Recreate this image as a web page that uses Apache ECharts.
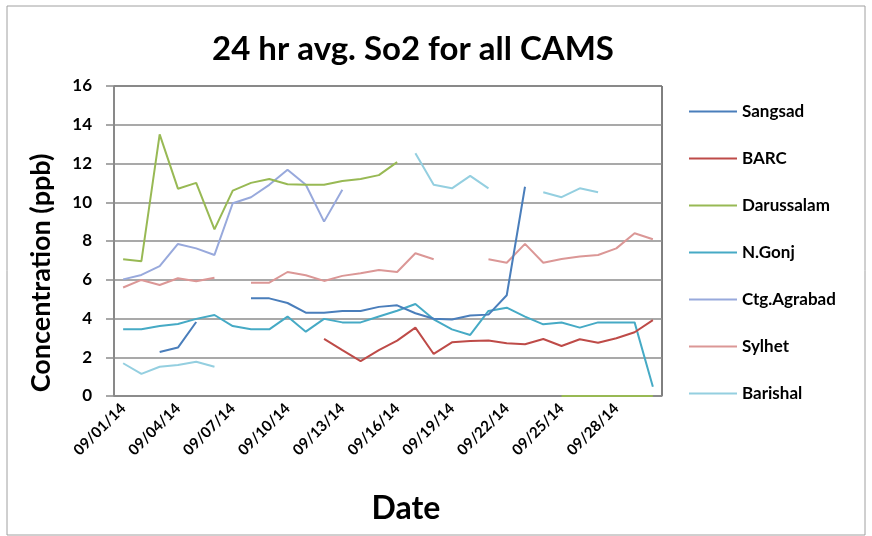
<!DOCTYPE html>
<html>
<head>
<meta charset="utf-8">
<script src="https://cdn.jsdelivr.net/npm/echarts@6/dist/echarts.min.js"></script>
<style>
  html, body { margin: 0; padding: 0; background: #fff; }
  #container { width: 872px; height: 536px; }
</style>
</head>
<body>
<div id="container"></div>
<script>
var dom = document.getElementById('container');
var myChart = echarts.init(dom, null, { renderer: 'canvas' });

// 09/01/14 .. 09/30/14
var dates = [];
for (var d = 1; d <= 30; d++) {
  dates.push('09/' + (d < 10 ? '0' + d : d) + '/14');
}

var sangsad = [null, null, 2.27, 2.5, 3.82, null, null, 5.04, 5.04, 4.8,
  4.3, 4.3, 4.39, 4.39, 4.6, 4.68, 4.27, 3.99, 3.95, 4.15,
  4.2, 5.2, 10.8, null, null, null, null, null, null, null];
var barc = [null, null, null, null, null, null, null, null, null, null,
  null, 2.95, 2.37, 1.8, 2.37, 2.86, 3.53, 2.17, 2.77, 2.84,
  2.86, 2.72, 2.67, 2.94, 2.58, 2.93, 2.75, 2.98, 3.29, 3.92];
var darussalam = [7.06, 6.96, 13.5, 10.7, 11.0, 8.6, 10.6, 11.0, 11.2, 10.93,
  10.9, 10.9, 11.1, 11.2, 11.4, 12.07, null, null, null, null,
  null, null, null, null, 0, 0, 0, 0, 0, 0];
var ngonj = [3.44, 3.44, 3.61, 3.72, 3.98, 4.18, 3.61, 3.44, 3.44, 4.1,
  3.32, 3.98, 3.8, 3.8, 4.1, 4.4, 4.75, 3.96, 3.44, 3.15,
  4.39, 4.56, 4.1, 3.7, 3.79, 3.53, 3.8, 3.8, 3.8, 0.48];
var agrabad = [6.02, 6.25, 6.7, 7.85, 7.62, 7.28, 9.95, 10.26, 10.9, 11.68,
  10.9, 9.0, 10.64, null, null, null, null, null, null, null,
  null, null, null, null, null, null, null, null, null, null];
var sylhet = [5.6, 5.99, 5.73, 6.08, 5.92, 6.1, null, 5.85, 5.85, 6.4,
  6.23, 5.94, 6.2, 6.33, 6.5, 6.4, 7.37, 7.06, null, null,
  7.06, 6.88, 7.85, 6.88, 7.07, 7.2, 7.28, 7.62, 8.4, 8.09];
var barishal = [1.69, 1.14, 1.51, 1.6, 1.77, 1.51, null, null, null, null,
  null, null, null, null, null, null, 12.53, 10.9, 10.72, 11.36,
  10.72, null, null, 10.52, 10.26, 10.72, 10.52, null, null, null];

var seriesNames = ['Sangsad', 'BARC', 'Darussalam', 'N.Gonj', 'Ctg.Agrabad', 'Sylhet', 'Barishal'];
var seriesData = [sangsad, barc, darussalam, ngonj, agrabad, sylhet, barishal];
var seriesColors = ['#4a7ebb', '#be4b48', '#98b954', '#46aac5', '#98a9dc', '#db9796', '#94cfe0'];

var fontFamily = 'Lato, "Open Sans", sans-serif';

var option = {
  backgroundColor: '#fff',
  animation: false,
  graphic: [{
    type: 'rect',
    shape: { x: 7, y: 6, width: 858, height: 529 },
    style: { fill: 'none', stroke: '#a0a0a0', lineWidth: 1 },
    silent: true
  }],
  title: {
    text: '24 hr avg. So2 for all CAMS',
    left: 408,
    textAlign: 'center',
    top: 28,
    textStyle: { fontFamily: fontFamily, fontSize: 33, fontWeight: 'bold', color: '#000' }
  },
  legend: {
    orient: 'vertical',
    left: 684,
    top: 98,
    icon: 'rect',
    itemWidth: 48,
    itemHeight: 2,
    itemGap: 30,
    data: seriesNames,
    textStyle: { fontFamily: fontFamily, fontSize: 17, fontWeight: 'bold', color: '#000' }
  },
  grid: {
    left: 114,
    top: 86,
    right: 210,
    bottom: 140,
    show: true,
    borderColor: '#000',
    borderWidth: 1,
    containLabel: false
  },
  xAxis: {
    type: 'category',
    data: dates,
    boundaryGap: true,
    name: 'Date',
    nameLocation: 'middle',
    nameGap: 97,
    nameTextStyle: { fontFamily: fontFamily, fontSize: 32, fontWeight: 'bold', color: '#000', padding: [0, 0, 0, 36] },
    axisLine: { lineStyle: { color: '#8c8c8c', width: 1.5 } },
    axisTick: { interval: 2, length: 6, lineStyle: { color: '#8c8c8c', width: 1.5 } },
    axisLabel: {
      interval: 2,
      rotate: 45,
      margin: 10,
      fontFamily: fontFamily,
      fontSize: 15,
      fontWeight: 'bold',
      color: '#000'
    },
    splitLine: { show: false }
  },
  yAxis: {
    type: 'value',
    min: 0,
    max: 16,
    interval: 2,
    name: 'Concentration (ppb)',
    nameLocation: 'middle',
    nameGap: 59,
    nameTextStyle: { fontFamily: fontFamily, fontSize: 27, fontWeight: 'bold', color: '#000', padding: [0, 64, 0, 0] },
    axisLine: { show: true, lineStyle: { color: '#8c8c8c', width: 1.5 } },
    axisTick: { show: true, length: 8, lineStyle: { color: '#8c8c8c', width: 1.5 } },
    axisLabel: {
      margin: 22,
      fontFamily: fontFamily,
      fontSize: 17,
      fontWeight: 'bold',
      color: '#000'
    },
    splitLine: { lineStyle: { color: '#8c8c8c', width: 1.5 } }
  },
  series: seriesNames.map(function (name, i) {
    return {
      name: name,
      type: 'line',
      data: seriesData[i],
      symbol: 'none',
      connectNulls: false,
      color: seriesColors[i],
      lineStyle: { width: 2, color: seriesColors[i] },
      z: 3 + (seriesNames.length - i)
    };
  })
};

myChart.setOption(option);
window.addEventListener('resize', myChart.resize);
</script>
</body>
</html>
